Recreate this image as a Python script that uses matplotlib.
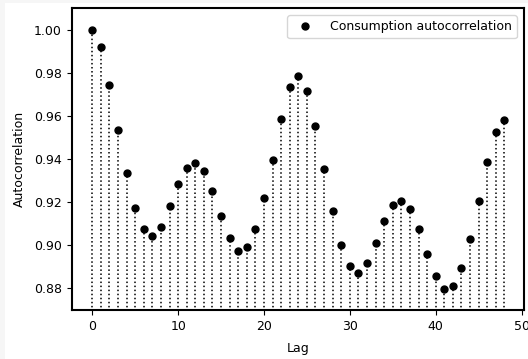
import numpy as np
import matplotlib
matplotlib.use("Agg")
import matplotlib.pyplot as plt
from matplotlib.patches import Rectangle

# autocorrelation of consumption, lags 0..48
lags = np.arange(49)
acf = [1.0000, 0.9922, 0.9747, 0.9536, 0.9335, 0.9174, 0.9073, 0.9042, 0.9085, 0.9180,
       0.9284, 0.9360, 0.9383, 0.9346, 0.9254, 0.9137, 0.9031, 0.8974, 0.8989, 0.9074,
       0.9217, 0.9395, 0.9586, 0.9735, 0.9789, 0.9719, 0.9553, 0.9352, 0.9157, 0.9000,
       0.8901, 0.8871, 0.8916, 0.9008, 0.9110, 0.9185, 0.9206, 0.9167, 0.9076, 0.8960,
       0.8854, 0.8795, 0.8811, 0.8892, 0.9029, 0.9203, 0.9385, 0.9527, 0.9580]
yticks = [0.88, 0.90, 0.92, 0.94, 0.96, 0.98, 1.00]

plt.rcParams['font.size'] = 9

fig = plt.figure(figsize=(5.28, 3.59), dpi=100, facecolor='#f6f6f6')
# white page with a thin grey margin on the top and left
fig.patches.append(Rectangle((5 / 528, 0), 1, 1 - 3 / 359, transform=fig.transFigure,
                             facecolor='white', edgecolor='none', zorder=-10))
ax = fig.add_axes([0.1358, 0.1365, 0.856, 0.8405])

ax.vlines(lags, 0, acf, colors='k', linestyles=':', linewidth=1.1)
ax.plot(lags, acf, 'ko', markersize=5, label='Consumption autocorrelation')

ax.set_ylim(0.8698, 1.0102)
ax.set_xlim(-2.4, 50.25)
ax.set_yticks(yticks)
ax.set_yticklabels(["%.2f" % t for t in yticks])
ax.set_xticks([0, 10, 20, 30, 40, 50])
ax.set_xlabel("Lag", labelpad=7)
ax.set_ylabel("Autocorrelation", labelpad=6)
for s in ax.spines.values():
    s.set_linewidth(1.5)
ax.legend(loc='upper right', handletextpad=1.0, borderpad=0.4,
          borderaxespad=0.55, fontsize=9)

plt.savefig("out.png", dpi=100, facecolor=fig.get_facecolor())
